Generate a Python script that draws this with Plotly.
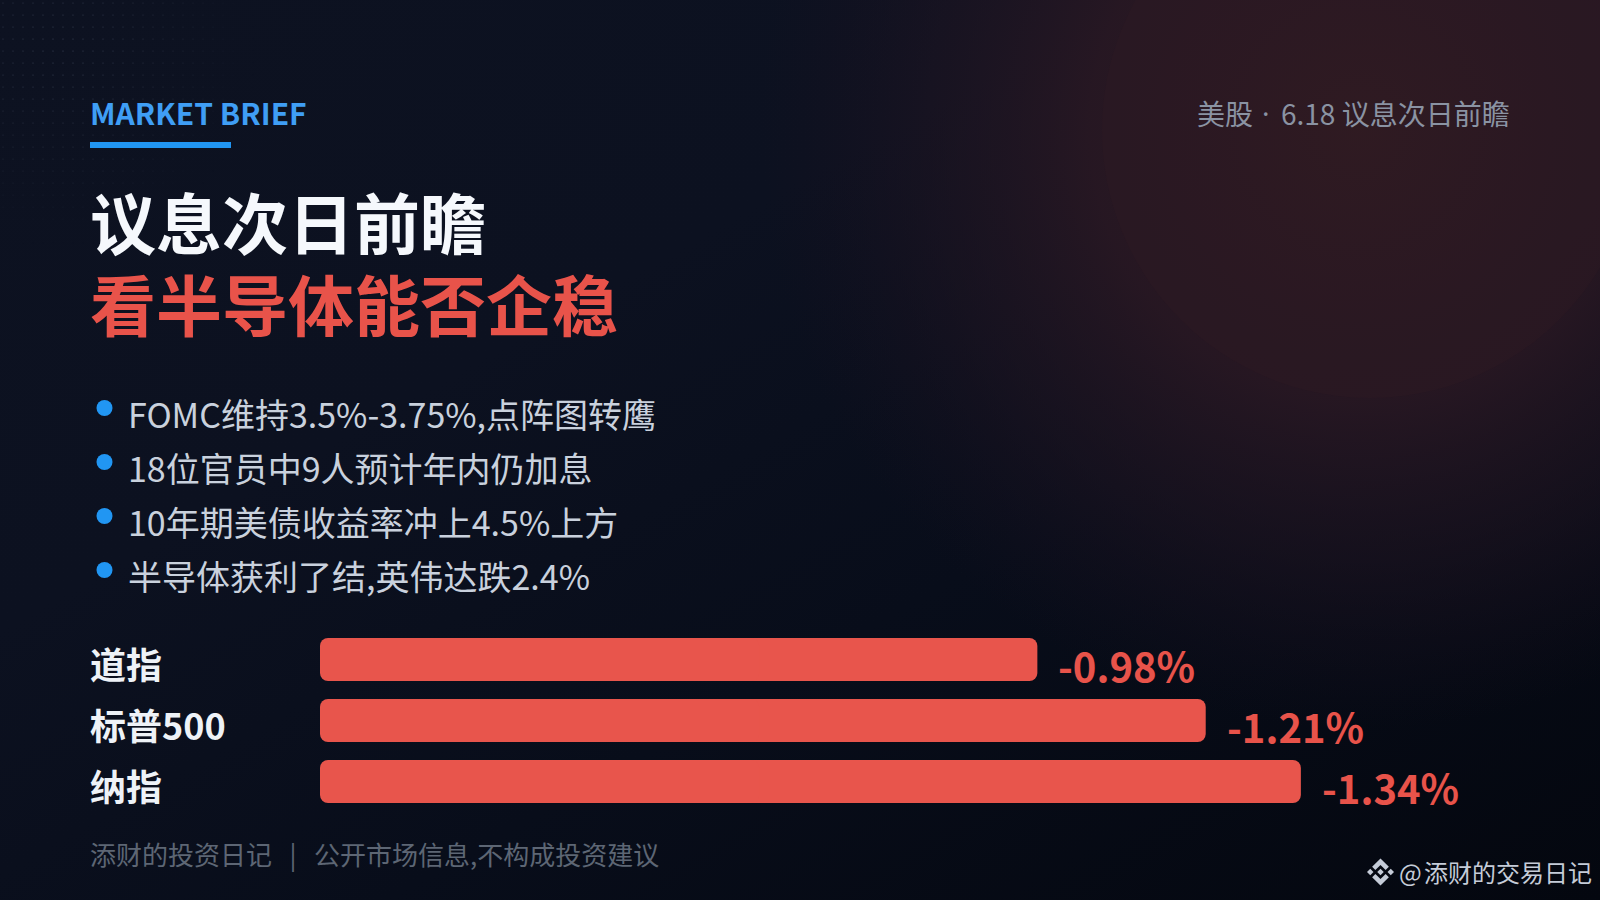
import base64
import plotly.graph_objects as go

W, H = 1600, 900
FONT = "Noto Sans CJK SC"

index_names = ["道指", "标普500", "纳指"]
index_moves = [-0.98, -1.21, -1.34]
move_labels = ["-0.98%", "-1.21%", "-1.34%"]
bullets = [
    "FOMC维持3.5%-3.75%,点阵图转鹰",
    "18位官员中9人预计年内仍加息",
    "10年期美债收益率冲上4.5%上方",
    "半导体获利了结,英伟达跌2.4%",
]

RED = "#e8534a"
BAR = "#e8554c"
BLUE = "#2196f3"


def px(x):
    return x / W


def py(y):
    return 1 - y / H


# background: dark gradient, red glow top right, faint dots top left
bg_svg = """<svg xmlns="http://www.w3.org/2000/svg" width="1600" height="900" viewBox="0 0 1600 900">
<defs>
<linearGradient id="base" x1="0" y1="0" x2="1" y2="1">
<stop offset="0" stop-color="#0d1221"/><stop offset="0.35" stop-color="#0c1120"/>
<stop offset="0.62" stop-color="#080d1a"/><stop offset="1" stop-color="#04070f"/>
</linearGradient>
<radialGradient id="glow" gradientUnits="userSpaceOnUse" cx="1360" cy="130" r="600">
<stop offset="0" stop-color="#2f1b22" stop-opacity="0.95"/>
<stop offset="0.45" stop-color="#2a1823" stop-opacity="0.88"/>
<stop offset="0.72" stop-color="#221522" stop-opacity="0.5"/>
<stop offset="1" stop-color="#1a1020" stop-opacity="0"/>
</radialGradient>
<pattern id="dots" width="10" height="12" patternUnits="userSpaceOnUse">
<circle cx="3" cy="3" r="0.6" fill="#7f8ea8"/>
</pattern>
<radialGradient id="fade" gradientUnits="userSpaceOnUse" cx="60" cy="50" r="200">
<stop offset="0" stop-color="#fff" stop-opacity="0.45"/>
<stop offset="1" stop-color="#fff" stop-opacity="0"/>
</radialGradient>
<mask id="m"><rect width="400" height="300" fill="url(#fade)"/></mask>
</defs>
<rect width="1600" height="900" fill="url(#base)"/>
<rect width="1600" height="900" fill="url(#glow)"/>
<circle cx="1370" cy="130" r="268" fill="#3a1c26" fill-opacity="0.13"/>
<rect width="400" height="300" fill="url(#dots)" mask="url(#m)"/>
</svg>"""
bg_uri = "data:image/svg+xml;base64," + base64.b64encode(bg_svg.encode()).decode()

sizes = [abs(v) for v in index_moves]

fig = go.Figure()
# two overlapping pieces, since cornerradius only rounds the tip of a bar
fig.add_trace(go.Bar(
    x=[s - 0.5 for s in sizes], base=0.5, y=index_names, orientation="h",
    marker=dict(color=BAR, line_width=0, cornerradius=8), hoverinfo="skip", width=0.705,
))
fig.add_trace(go.Bar(
    x=[-0.6] * len(sizes), base=0.6, y=index_names, orientation="h",
    marker=dict(color=BAR, line_width=0, cornerradius=8), hoverinfo="skip", width=0.705,
))


def add_text(text, x, y, size, color, weight=400, anchor="left", family=FONT):
    fig.add_annotation(
        text=text, x=px(x), y=py(y), xref="paper", yref="paper",
        xanchor=anchor, yanchor="middle", showarrow=False, borderpad=0, borderwidth=0,
        font=dict(family=family, size=size, color=color, weight=weight),
    )


add_text("MARKET BRIEF", 90, 112, 30, "#3f9ef5", 700)
add_text("议息次日前瞻", 90, 220, 66, "#f5f8fc", 700)
add_text("看半导体能否企稳", 90, 302, 66, RED, 700)
add_text("美股", 1197, 113, 28, "#8a93a3")
add_text("·", 1266, 113, 28, "#8a93a3", 400, "center", "Noto Sans")
add_text("6.18 议息次日前瞻", 1510, 113, 28, "#8a93a3", 400, "right")

for i, b in enumerate(bullets):
    add_text(b, 128, 413.6 + 54 * i, 34, "#c9d1dd", 400)
    fig.add_shape(type="circle", xref="paper", yref="paper",
                  x0=px(96.5), x1=px(112.5), y0=py(400 + 54 * i), y1=py(416 + 54 * i),
                  fillcolor=BLUE, line_width=0)

# index names and moves sit a little below the bar centres
for name, size, lab in zip(index_names, sizes, move_labels):
    fig.add_annotation(text=name, x=px(90), y=name, xref="paper", yref="y", xanchor="left",
                       yanchor="middle", yshift=-3, showarrow=False, borderpad=0, borderwidth=0,
                       font=dict(family=FONT, size=36, color="#eef2f7", weight=700))
    fig.add_annotation(text=lab, x=size, y=name, xref="x", yref="y", xanchor="left",
                       yanchor="middle", xshift=21, yshift=-5, showarrow=False, borderpad=0, borderwidth=0,
                       font=dict(family=FONT, size=40, color=RED, weight=700))

add_text("添财的投资日记\u00a0\u00a0\u00a0|\u00a0\u00a0\u00a0公开市场信息,不构成投资建议", 90, 854, 26, "#5d6674")
add_text("@", 1399, 871, 24, "#c5ccd8")
add_text("添财的交易日记", 1424, 871, 24, "#c5ccd8")

fig.add_shape(type="rect", xref="paper", yref="paper", x0=px(90), x1=px(231), y0=py(142), y1=py(148),
              fillcolor=BLUE, line_width=0)

# binance style logo
logo_parts = [
    [(0, -1), (.62, -.38), (.38, -.14), (0, -.52), (-.38, -.14), (-.62, -.38)],
    [(0, 1), (.62, .38), (.38, .14), (0, .52), (-.38, .14), (-.62, .38)],
    [(0, -.24), (.24, 0), (0, .24), (-.24, 0)],
    [(-.76, -.24), (-.52, 0), (-.76, .24), (-1, 0)],
    [(.76, -.24), (1, 0), (.76, .24), (.52, 0)],
]
for part in logo_parts:
    pts = [f"{px(1380.5 + 13.5 * a):.5f},{py(872 + 13.5 * b):.5f}" for a, b in part]
    fig.add_shape(type="path", xref="paper", yref="paper", path="M" + " L".join(pts) + " Z",
                  fillcolor="#c5ccd8", line_width=0)

fig.update_layout(
    width=W, height=H,
    margin=dict(l=0, r=0, t=0, b=0),
    paper_bgcolor="#080d1a",
    plot_bgcolor="rgba(0,0,0,0)",
    showlegend=False,
    barmode="overlay",
    font=dict(family=FONT),
    xaxis=dict(domain=[px(320), 1], range=[0, 1280 / 732], visible=False),
    yaxis=dict(domain=[py(812), py(629)], range=[2.5, -0.5], visible=False, type="category"),
    images=[dict(source=bg_uri, xref="paper", yref="paper", x=0, y=1, sizex=1, sizey=1,
                 sizing="stretch", xanchor="left", yanchor="top", layer="below")],
)

fig.write_html("out.html", config=dict(displayModeBar=False),
               post_script="document.body.style.margin='0';document.body.style.background='#080d1a';")
